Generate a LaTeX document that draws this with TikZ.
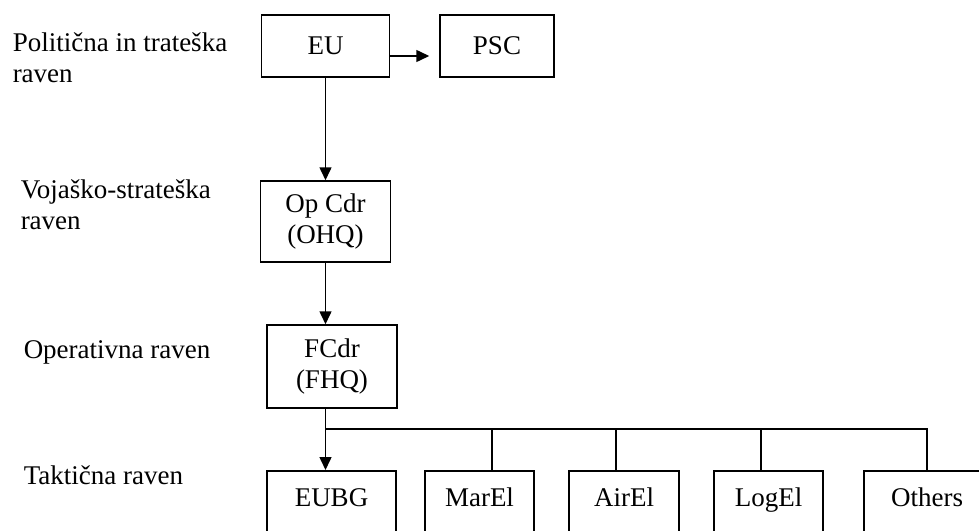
\documentclass[tikz,border=0pt]{standalone}
\usepackage{fontspec}
\setmainfont{Liberation Serif}
\usetikzlibrary{arrows.meta}

\begin{document}
\begin{tikzpicture}[x=1pt,y=-1pt,line width=1.5pt,
                    font=\fontsize{27}{31}\selectfont,
                    unit node/.style={rectangle,draw,align=center,inner sep=0pt},
                    low node/.style={unit node,anchor=north,text height=36pt,text depth=34pt},
                    level label/.style={anchor=west,align=left,inner sep=0pt},
                    tip/.style={-{Triangle[length=13pt,width=12pt]}}
                   ]
  \useasboundingbox (0,0) rectangle (979,530);
  % levels
  \node[level label] (pol) at (12,57.5) {Politična in trateška\\raven};
  \node[level label] (voj) at (20,205) {Vojaško-strateška\\raven};
  \node[level label] (opr) at (23,352) {Operativna raven};
  \node[level label] (tak) at (23,475) {Taktična raven};
  % units
  \node[unit node,minimum width=128pt,minimum height=62pt] (eu) at (325.5,46) {EU};
  \node[unit node,minimum width=114pt,minimum height=62pt] (psc) at (497,46) {PSC};
  \node[unit node,minimum width=130pt,minimum height=81pt] (opcdr) at (325.5,221.5) {Op Cdr\\(OHQ)};
  \node[unit node,minimum width=130pt,minimum height=83pt] (fcdr) at (332,366.5) {FCdr\\(FHQ)};
  \node[low node,minimum width=129pt] (eubg) at (331.5,470) {EUBG};
  \node[low node,minimum width=109pt] (marel) at (479.5,470) {MarEl};
  \node[low node,minimum width=110pt] (airel) at (624,470) {AirEl};
  \node[low node,minimum width=109pt] (logel) at (768.5,470) {LogEl};
  \node[low node,minimum width=126pt] (others) at (927,470) {Others};
  \coordinate (fork) at (325.5,429);
    \path[tip]%
      (eu) edge (opcdr)
      ([yshift=-10pt]eu.east) edge[shorten >=10pt] ([yshift=-10pt]psc.west)
      (opcdr) edge (opcdr.south |- fcdr.north)
      (fcdr.south -| fork) edge (fork |- eubg.north);
  \draw (fork) -- (fork -| others.north) -- (others.north);
  \draw ([xshift=12.5pt]marel.north) -- ([xshift=12.5pt]marel.north |- fork);
  \draw ([xshift=-8pt]airel.north) -- ([xshift=-8pt]airel.north |- fork);
  \draw ([xshift=-7.5pt]logel.north) -- ([xshift=-7.5pt]logel.north |- fork);
\end{tikzpicture}
\end{document}
